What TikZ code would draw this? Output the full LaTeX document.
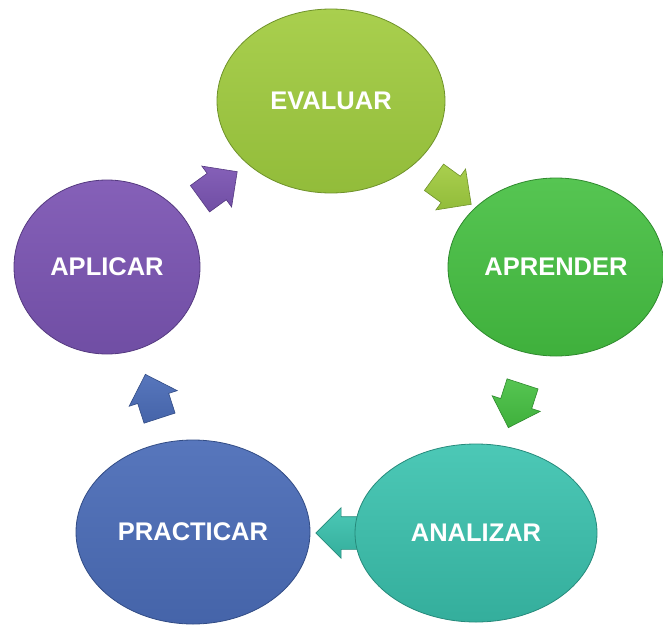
\documentclass[tikz,border=0pt]{standalone}
\usepackage{fontspec}
\setmainfont{Liberation Sans}
\usetikzlibrary{shapes.geometric,shapes.arrows}
\definecolor{evT}{HTML}{A9CF4E}\definecolor{evB}{HTML}{92BC3A}\definecolor{evD}{HTML}{6F922A}
\definecolor{apT}{HTML}{56C552}\definecolor{apB}{HTML}{3FB03C}\definecolor{apD}{HTML}{2F8A2E}
\definecolor{anT}{HTML}{4CC8B6}\definecolor{anB}{HTML}{34AE9C}\definecolor{anD}{HTML}{268A7B}
\definecolor{prT}{HTML}{5776BC}\definecolor{prB}{HTML}{4564A9}\definecolor{prD}{HTML}{324C85}
\definecolor{plT}{HTML}{8560B8}\definecolor{plB}{HTML}{704EA4}\definecolor{plD}{HTML}{553A80}
\tikzset{
  stage/.style={ellipse, inner sep=0pt, text=white, font=\fontsize{25.5}{28}\selectfont\bfseries, line width=0.8pt},
  cyc/.style={single arrow, inner xsep=0pt, inner ysep=16pt, minimum width=0pt, single arrow head extend=9pt, minimum height=46pt, line width=0.6pt},
}
\begin{document}
\begin{tikzpicture}[x=1pt,y=-1pt]
\useasboundingbox (0,0) rectangle (663,626);
% arrows (behind)
\node[cyc, rotate=-36, top color=evT, bottom color=evB, draw=evD] (a1) at (446,186) {};
\node[cyc, rotate=-108, top color=apT, bottom color=apB, draw=apD] (a2) at (518,398) {};
\node[cyc, rotate=180, top color=anT, bottom color=anB, draw=anD] (a3) at (347,533) {};
\node[cyc, rotate=108, top color=prT, bottom color=prB, draw=prD] (a4) at (155,404) {};
\node[cyc, rotate=36, top color=plT, bottom color=plB, draw=plD] (a5) at (212,190) {};
% stages
\node[stage, minimum width=228pt, minimum height=184pt, top color=evT, bottom color=evB, draw=evD] (ev) at (331,101) {EVALUAR};
\node[stage, minimum width=216pt, minimum height=178pt, top color=apT, bottom color=apB, draw=apD] (ap) at (556,267) {APRENDER};
\node[stage, minimum width=242pt, minimum height=178pt, top color=anT, bottom color=anB, draw=anD] (an) at (476,533) {ANALIZAR};
\node[stage, minimum width=234pt, minimum height=184pt, top color=prT, bottom color=prB, draw=prD] (pr) at (193,532) {PRACTICAR};
\node[stage, minimum width=186pt, minimum height=174pt, top color=plT, bottom color=plB, draw=plD] (pl) at (107,267) {APLICAR};
\end{tikzpicture}
\end{document}
